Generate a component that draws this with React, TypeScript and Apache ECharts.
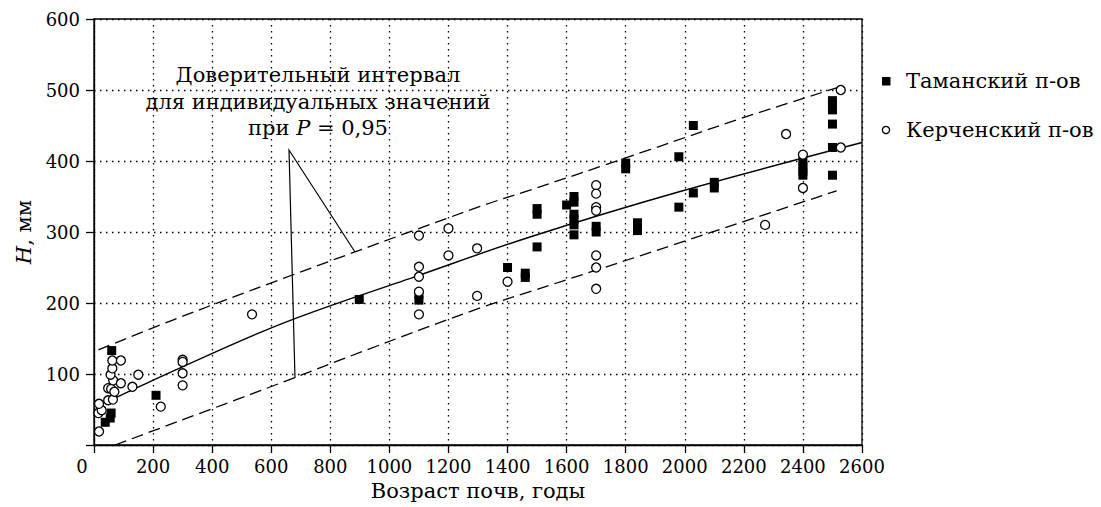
import { useEffect, useRef } from "react";
import * as echarts from "echarts";

// Таманский п-ов (filled squares): [age, H]
const tamanPoints: number[][] = [
  [60, 133], [38, 32], [55, 38], [58, 45],
  [210, 70],
  [898, 205],
  [1100, 212], [1100, 204],
  [1400, 250],
  [1460, 242], [1460, 236],
  [1500, 279], [1500, 333], [1500, 325],
  [1600, 338], [1625, 350], [1625, 342], [1625, 325], [1625, 318], [1625, 310], [1625, 296],
  [1700, 308], [1700, 300],
  [1800, 397], [1800, 389],
  [1840, 313], [1840, 302],
  [1980, 406], [1980, 335],
  [2029, 450], [2029, 355],
  [2100, 370], [2100, 362],
  [2400, 400], [2400, 392], [2400, 386], [2400, 380],
  [2500, 485], [2500, 478], [2500, 472], [2500, 452], [2500, 419], [2500, 380],
];

// Керченский п-ов (open circles): [age, H]
const kerchPoints: number[][] = [
  [15, 45], [26, 49], [17, 58], [17, 19], [48, 63], [64, 64], [48, 80], [58, 79], [69, 75],
  [65, 91], [91, 87], [56, 99], [62, 108], [62, 119], [91, 119], [130, 82], [150, 99],
  [226, 54],
  [300, 120], [300, 117], [300, 101], [300, 84],
  [535, 184],
  [1100, 295], [1100, 251], [1100, 237], [1100, 216], [1100, 184],
  [1200, 305], [1200, 267],
  [1297, 277], [1297, 210],
  [1400, 230],
  [1700, 366], [1700, 354], [1700, 335], [1700, 330], [1700, 267], [1700, 250], [1700, 220],
  [2272, 310], [2343, 438], [2400, 409], [2400, 362],
  [2528, 500], [2528, 419],
];

// regression line and confidence band
const regressionLine: number[][] = [
  [50, 62], [183, 88], [630, 170], [1100, 239], [1476, 293], [1984, 357], [2600, 426],
];
const upperBound: number[][] = [
  [15, 134], [267, 176], [630, 233], [1307, 336], [1476, 359], [1713, 392], [1882, 416], [2198, 461], [2514, 503],
];
const lowerBound: number[][] = [
  [71, 0], [630, 87], [917, 133], [1307, 193], [1476, 216], [1713, 248], [1984, 285], [2187, 313], [2514, 358],
];

const xAxisTitle = "Возраст почв, годы";
const seriesNames = ["Таманский п-ов", "Керченский п-ов"];
const noteLines = ["Доверительный интервал", "для индивидуальных значений"];
const noteLast = "при {i|P} = 0,95";

const FONT = "DejaVu Serif";
const FS = 18; // tick labels
const FT = 21; // words

export default function App() {
  const ref = useRef<HTMLDivElement>(null);
  useEffect(() => {
    const chart = echarts.init(ref.current!, null, { renderer: "svg" });
    const dotted = { type: [1.5, 4.5] as any, color: "#000", width: 1.3 };
    const lineCommon = {
      type: "line" as const,
      symbol: "none",
      smooth: 0.35,
      silent: true,
      z: 2,
    };
    const txt = { fontFamily: FONT, fontSize: FT, fill: "#000" };
    chart.setOption({
      animation: false,
      backgroundColor: "#fff",
      textStyle: { fontFamily: FONT },
      grid: {
        left: 94,
        right: 239,
        top: 19,
        bottom: 62,
        show: true,
        borderColor: "#000",
        borderWidth: 1.3,
        backgroundColor: "transparent",
      },
      xAxis: {
        type: "value",
        min: 0,
        max: 2600,
        interval: 200,
        name: xAxisTitle,
        nameLocation: "middle",
        nameGap: 35,
        nameTextStyle: { fontFamily: FONT, fontSize: FT, color: "#000" },
        axisLine: { show: true, onZero: false, lineStyle: { color: "#000", width: 1.3 } },
        axisTick: { show: true, length: 8, lineStyle: { color: "#000", width: 1.3 } },
        axisLabel: {
          margin: 12,
          fontFamily: FONT,
          fontSize: FS,
          color: "#000",
          formatter: (v: number) => (v === 0 ? "{z|0}" : String(v)),
          rich: { z: { fontFamily: FONT, fontSize: FS, color: "#000", padding: [0, 24, 0, 0] } },
        },
        splitLine: { show: true, lineStyle: dotted },
      },
      yAxis: {
        type: "value",
        min: 0,
        max: 600,
        interval: 100,
        name: "{i|H}, мм",
        nameLocation: "middle",
        nameGap: 60,
        nameRotate: 90,
        nameTextStyle: {
          fontFamily: FONT,
          fontSize: FT,
          color: "#000",
          rich: { i: { fontFamily: FONT, fontSize: FT, fontStyle: "italic", color: "#000" } },
        },
        axisLine: { show: true, onZero: false, lineStyle: { color: "#000", width: 1.3 } },
        axisTick: { show: true, length: 8, lineStyle: { color: "#000", width: 1.3 } },
        axisLabel: {
          margin: 14,
          fontFamily: FONT,
          fontSize: FS,
          color: "#000",
          formatter: (v: number) => (v === 0 ? "" : String(v)),
        },
        splitLine: { show: true, lineStyle: dotted },
      },
      series: [
        { ...lineCommon, name: "regression", data: regressionLine, lineStyle: { color: "#000", width: 1.4 } },
        { ...lineCommon, name: "upper", data: upperBound, lineStyle: { color: "#000", width: 1.3, type: [12, 6] } },
        { ...lineCommon, name: "lower", data: lowerBound, lineStyle: { color: "#000", width: 1.3, type: [12, 6] } },
        {
          type: "scatter",
          name: seriesNames[0],
          data: tamanPoints,
          symbol: "rect",
          symbolSize: 9,
          itemStyle: { color: "#000", opacity: 1 },
          z: 3,
        },
        {
          type: "scatter",
          name: seriesNames[1],
          data: kerchPoints,
          symbol: "circle",
          symbolSize: 9,
          itemStyle: { color: "#fff", borderColor: "#000", borderWidth: 1.3, opacity: 1 },
          z: 4,
        },
      ],
      graphic: [
        {
          type: "polyline",
          silent: true,
          z: 10,
          shape: { points: [[355, 252], [289, 150], [295, 378]] },
          style: { stroke: "#000", lineWidth: 1.2, fill: null },
        },
        {
          type: "text",
          x: 318,
          y: 75,
          z: 10,
          style: { ...txt, text: noteLines[0], align: "center", verticalAlign: "middle" },
        },
        {
          type: "text",
          x: 318,
          y: 102,
          z: 10,
          style: { ...txt, text: noteLines[1], align: "center", verticalAlign: "middle" },
        },
        {
          type: "text",
          x: 318,
          y: 128,
          z: 10,
          style: {
            ...txt,
            text: noteLast,
            align: "center",
            verticalAlign: "middle",
            rich: { i: { fontFamily: FONT, fontSize: FT, fontStyle: "italic", fill: "#000" } },
          },
        },
        { type: "rect", shape: { x: 882, y: 77, width: 8.5, height: 8.5 }, style: { fill: "#000" } },
        { type: "circle", shape: { cx: 886, cy: 130, r: 3.6 }, style: { fill: "#fff", stroke: "#000", lineWidth: 1.3 } },
        {
          type: "text",
          x: 906,
          y: 81,
          style: { ...txt, text: seriesNames[0], align: "left", verticalAlign: "middle" },
        },
        {
          type: "text",
          x: 906,
          y: 130,
          style: { ...txt, text: seriesNames[1], align: "left", verticalAlign: "middle" },
        },
      ],
    });
    return () => chart.dispose();
  }, []);
  return <div ref={ref} style={{ position: "fixed", left: 0, top: 0, width: 1101, height: 507 }} />;
}
